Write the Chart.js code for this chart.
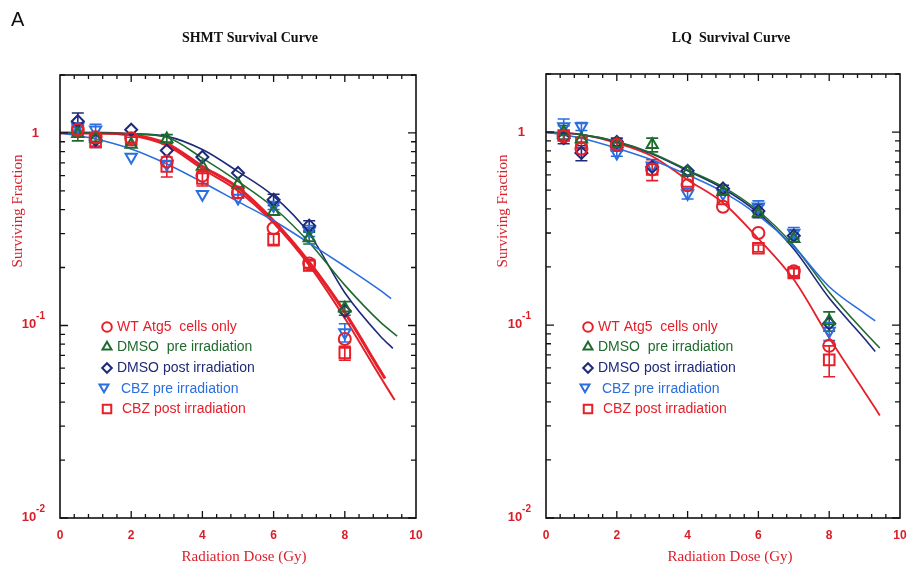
<!DOCTYPE html>
<html><head><meta charset="utf-8">
<script src="https://cdn.jsdelivr.net/npm/chart.js@4"></script>
<style>
html,body{margin:0;padding:0;background:#fff;width:915px;height:567px;overflow:hidden}
#wl{position:absolute;left:0;top:0;width:460px;height:567px}
#wr{position:absolute;left:460px;top:0;width:455px;height:567px}
</style></head><body>
<div id="wl"><canvas id="cl" width="460" height="567"></canvas></div>
<div id="wr"><canvas id="cr" width="455" height="567"></canvas></div>
<script>
// ---------- data ----------
const doses = [0.5, 1, 2, 3, 4, 5, 6, 7, 8];
const seriesNames = ['WT Atg5  cells only', 'DMSO  pre irradiation', 'DMSO post irradiation', 'CBZ pre irradiation', 'CBZ post irradiation'];
const xTickLabels = ['0', '2', '4', '6', '8', '10'];
const yTickLabels = [['10', '-2'], ['10', '-1'], ['1', '']];
const yTickValues = [0.01, 0.1, 1];

// SHMT panel: measured surviving fractions
const shmtWT       = [1.04, 0.95, 0.94, 0.71, 0.60, 0.49, 0.32, 0.21, 0.085];
const shmtDmsoPre  = [0.99, 0.94, 0.87, 0.93, 0.67, 0.54, 0.39, 0.285, 0.123];
const shmtDmsoPost = [1.15, 0.92, 1.04, 0.81, 0.75, 0.62, 0.45, 0.33, 0.119];
const shmtCbzPre   = [1.08, 1.04, 0.75, 0.69, 0.48, 0.46, 0.42, 0.31, 0.092];
const shmtCbzPost  = [1.05, 0.91, 0.92, 0.67, 0.58, 0.49, 0.28, 0.205, 0.072];
const shmtWTErr       = [0.05, 0, 0, 0, 0, 0, 0, 0.01, 0];
const shmtDmsoPreErr  = [0.08, 0.05, 0, 0.05, 0, 0, 0, 0.02, 0.01];
const shmtDmsoPostErr = [0.12, 0.08, 0, 0, 0, 0, 0.03, 0.02, 0];
const shmtCbzPreErr   = [0.05, 0.07, 0, 0, 0, 0, 0.02, 0.02, 0.01];
const shmtCbzPostErr  = [0.06, 0.07, 0.03, 0.08, 0.05, 0.03, 0.02, 0.012, 0.006];

// LQ panel: measured surviving fractions
const lqWT       = [0.95, 0.82, 0.86, 0.64, 0.53, 0.41, 0.30, 0.19, 0.078];
const lqDmsoPre  = [1.00, 0.92, 0.87, 0.86, 0.62, 0.49, 0.38, 0.28, 0.105];
const lqDmsoPost = [0.93, 0.78, 0.89, 0.66, 0.63, 0.51, 0.39, 0.29, 0.102];
const lqCbzPre   = [1.07, 1.07, 0.78, 0.67, 0.48, 0.48, 0.41, 0.30, 0.093];
const lqCbzPost  = [0.96, 0.88, 0.85, 0.64, 0.555, 0.45, 0.25, 0.186, 0.066];
const lqWTErr       = [0, 0, 0, 0, 0, 0, 0, 0.01, 0];
const lqDmsoPreErr  = [0.08, 0, 0, 0.07, 0, 0, 0, 0, 0.012];
const lqDmsoPostErr = [0.06, 0.07, 0.04, 0, 0, 0.02, 0.03, 0.02, 0];
const lqCbzPreErr   = [0.10, 0.05, 0.03, 0, 0.03, 0, 0.03, 0.02, 0.01];
const lqCbzPostErr  = [0.05, 0.06, 0.03, 0.08, 0, 0, 0.01, 0.01, 0.012];

// fitted curves at doses 0..9, last value at the curve's end dose
const fitDoses = [0, 1, 2, 3, 4, 5, 6, 7, 8, 9];
const shmtFitWT       = [1.0, 1.0, 0.98, 0.88, 0.67, 0.52, 0.35, 0.213, 0.117, 0.058, 0.053];
const shmtFitDmsoPre  = [1.0, 1.0, 0.99, 0.95, 0.74, 0.56, 0.41, 0.27, 0.162, 0.104, 0.088];
const shmtFitDmsoPost = [1.0, 1.0, 0.99, 0.96, 0.82, 0.63, 0.47, 0.30, 0.148, 0.088, 0.076];
const shmtFitCbzPre   = [1.0, 0.93, 0.825, 0.69, 0.555, 0.44, 0.35, 0.268, 0.203, 0.152, 0.138];
const shmtFitCbzPost  = [1.0, 1.0, 0.97, 0.86, 0.65, 0.50, 0.34, 0.205, 0.109, 0.054, 0.041];
const shmtFitEndDose  = [9.13, 9.47, 9.35, 9.3, 9.4];
const lqFitWT       = [1.0, 0.97, 0.877, 0.75, 0.565, 0.43, 0.28, 0.172, 0.086, 0.045, 0.034];
const lqFitDmsoPre  = [1.0, 0.97, 0.894, 0.777, 0.636, 0.52, 0.39, 0.258, 0.148, 0.092, 0.076];
const lqFitDmsoPost = [1.0, 0.97, 0.89, 0.77, 0.63, 0.51, 0.38, 0.248, 0.138, 0.085, 0.073];
const lqFitCbzPre   = [1.0, 0.93, 0.825, 0.717, 0.60, 0.49, 0.37, 0.255, 0.158, 0.115, 0.105];
const lqFitEndDose  = [9.43, 9.43, 9.3, 9.3];

// ---------- styles ----------
const RED = '#e5202a', GREEN = '#1f6b2d', NAVY = '#1f2a7a', BLUE = '#2a6ee0', TXTRED = '#d91e2a';
const markerStyles = [
  { color: RED, pointStyle: 'circle', rotation: 0, r: 6 },
  { color: GREEN, pointStyle: 'triangle', rotation: 0, r: 6.5 },
  { color: NAVY, pointStyle: 'rectRot', rotation: 0, r: 6 },
  { color: BLUE, pointStyle: 'triangle', rotation: 180, r: 6.5 },
  { color: RED, pointStyle: 'rect', rotation: 0, r: 7.5 }
];

function pts(xs, ys) { return ys.map((y, i) => ({ x: xs[i], y: y })); }
function fitPts(vals, endDose) {
  const arr = fitDoses.map((d, i) => ({ x: d, y: vals[i] }));
  arr.push({ x: endDose, y: vals[vals.length - 1] });
  return arr;
}
function fitDS(vals, endDose, color, width) {
  return { type: 'line', data: fitPts(vals, endDose), borderColor: color, borderWidth: width,
    pointRadius: 0, fill: false, cubicInterpolationMode: 'monotone', showLine: true, order: 2 };
}
function markDS(vals, errs, k) {
  const m = markerStyles[k];
  return { type: 'line', data: pts(doses, vals), err: errs, showLine: false,
    borderColor: m.color, backgroundColor: 'rgba(0,0,0,0)', pointStyle: m.pointStyle, rotation: m.rotation,
    pointRadius: m.r, pointBorderWidth: 2, pointBackgroundColor: 'rgba(0,0,0,0)', order: 1 };
}

function drawPoint(ctx, style, scale, x, y) {
  ctx.save();
  ctx.strokeStyle = style.color; ctx.fillStyle = 'rgba(0,0,0,0)'; ctx.lineWidth = 2;
  Chart.helpers.drawPoint(ctx, { pointStyle: style.pointStyle, rotation: style.rotation, radius: style.r * scale, borderWidth: 2 }, x, y);
  ctx.restore();
}

function panelPlugin(p) {
  return {
    id: 'panel',
    beforeDatasetsDraw(chart) {
      const ctx = chart.ctx, ys = chart.scales.y;
      ctx.save();
      chart.data.datasets.forEach((ds, i) => {
        if (!ds.err) return;
        const meta = chart.getDatasetMeta(i);
        ctx.strokeStyle = ds.borderColor; ctx.lineWidth = 1.6;
        ds.err.forEach((e, j) => {
          if (!e) return;
          const x = meta.data[j].x;
          const v = ds.data[j].y;
          const y1 = ys.getPixelForValue(v + e), y2 = ys.getPixelForValue(Math.max(v - e, 0.011));
          ctx.beginPath();
          ctx.moveTo(x, y1); ctx.lineTo(x, y2);
          ctx.moveTo(x - 6, y1); ctx.lineTo(x + 6, y1);
          ctx.moveTo(x - 6, y2); ctx.lineTo(x + 6, y2);
          ctx.stroke();
        });
      });
      ctx.restore();
    },
    afterDraw(chart) {
      const ctx = chart.ctx, a = chart.chartArea, xs = chart.scales.x, ys = chart.scales.y;
      ctx.save();
      // frame
      ctx.strokeStyle = '#111'; ctx.lineWidth = 1.6;
      ctx.strokeRect(a.left, a.top, a.right - a.left, a.bottom - a.top);
      ctx.lineWidth = 1.3;
      ctx.beginPath();
      // x ticks every 0.4, major every 2
      for (let i = 1; i < 25; i++) {
        const v = i * 0.4;
        const major = i % 5 === 0;
        const px = xs.getPixelForValue(v), L = major ? 7 : 4;
        ctx.moveTo(px, a.bottom); ctx.lineTo(px, a.bottom - L);
        ctx.moveTo(px, a.top); ctx.lineTo(px, a.top + L);
      }
      // y ticks (log)
      [0.01, 0.1, 1].forEach(dec => {
        for (let m = 1; m <= 9; m++) {
          const v = m * dec;
          if (v > 2 || v <= 0.01 && m > 1) continue;
          const py = ys.getPixelForValue(v), L = m === 1 ? 8 : 5;
          ctx.moveTo(a.left, py); ctx.lineTo(a.left + L, py);
          ctx.moveTo(a.right, py); ctx.lineTo(a.right - L, py);
        }
      });
      ctx.stroke();

      // x tick labels
      ctx.fillStyle = TXTRED;
      ctx.font = 'bold 12px "Liberation Sans", Arial, sans-serif';
      ctx.textAlign = 'center'; ctx.textBaseline = 'middle';
      xTickLabels.forEach(t => ctx.fillText(t, xs.getPixelForValue(+t), a.bottom + 18));
      // y tick labels
      yTickValues.forEach((v, i) => {
        const py = ys.getPixelForValue(v), lab = yTickLabels[i];
        if (!lab[1]) {
          ctx.font = 'bold 13px "Liberation Sans", Arial, sans-serif';
          ctx.textAlign = 'right'; ctx.textBaseline = 'middle';
          ctx.fillText(lab[0], a.left - 21, py);
        } else {
          ctx.font = 'bold 10px "Liberation Sans", Arial, sans-serif';
          const we = ctx.measureText(lab[1]).width;
          ctx.textAlign = 'right'; ctx.textBaseline = 'alphabetic';
          ctx.fillText(lab[1], a.left - 15, py - 6);
          ctx.font = 'bold 13px "Liberation Sans", Arial, sans-serif';
          ctx.fillText(lab[0], a.left - 15 - we, py + 3);
        }
      });
      // axis titles
      ctx.font = '15px "Liberation Serif", "Times New Roman", serif';
      ctx.textAlign = 'center'; ctx.textBaseline = 'middle';
      ctx.fillText('Radiation Dose (Gy)', p.xTitleX, 557);
      ctx.save();
      ctx.translate(p.yTitleX, 211); ctx.rotate(-Math.PI / 2);
      ctx.fillText('Surviving Fraction', 0, 0);
      ctx.restore();
      // panel title
      ctx.fillStyle = '#111';
      ctx.font = 'bold 14px "Liberation Serif", "Times New Roman", serif';
      ctx.fillText(p.title, p.titleX, 38);
      if (p.letter) {
        ctx.font = '20px "Liberation Sans", Arial, sans-serif';
        ctx.textAlign = 'left'; ctx.textBaseline = 'alphabetic';
        ctx.fillText(p.letter, 11, 26);
      }
      // legend
      const rows = [327, 347, 368, 389, 409];
      const tx = [0, 0, 0, 4, 5];
      seriesNames.forEach((name, k) => {
        const m = markerStyles[k];
        drawPoint(ctx, m, 0.8, p.legX + (k === 3 ? -3 : 0), rows[k] + (k === 3 ? -2 : 0));
        ctx.fillStyle = m.color;
        ctx.font = '14px "Liberation Sans", Arial, sans-serif';
        ctx.textAlign = 'left'; ctx.textBaseline = 'middle';
        ctx.fillText(name, p.legX + 10 + tx[k], rows[k]);
      });
      ctx.restore();
    }
  };
}

function makeChart(id, datasets, p) {
  return new Chart(document.getElementById(id), {
    type: 'line',
    data: { datasets },
    options: {
      responsive: false, animation: false, devicePixelRatio: 1,
      layout: { padding: p.pad },
      plugins: { legend: { display: false }, tooltip: { enabled: false } },
      scales: {
        x: { type: 'linear', min: 0, max: 10, display: false },
        y: { type: 'logarithmic', min: 0.01, max: 2, display: false }
      }
    },
    plugins: [panelPlugin(p)]
  });
}

makeChart('cl', [
  fitDS(shmtFitCbzPre, shmtFitEndDose[3], BLUE, 1.6),
  fitDS(shmtFitDmsoPre, shmtFitEndDose[1], GREEN, 1.6),
  fitDS(shmtFitDmsoPost, shmtFitEndDose[2], NAVY, 1.6),
  fitDS(shmtFitCbzPost, shmtFitEndDose[4], RED, 2),
  fitDS(shmtFitWT, shmtFitEndDose[0], RED, 3),
  markDS(shmtWT, shmtWTErr, 0),
  markDS(shmtDmsoPre, shmtDmsoPreErr, 1),
  markDS(shmtDmsoPost, shmtDmsoPostErr, 2),
  markDS(shmtCbzPre, shmtCbzPreErr, 3),
  markDS(shmtCbzPost, shmtCbzPostErr, 4)
], { pad: { left: 60, right: 44, top: 75, bottom: 49 }, title: 'SHMT Survival Curve', titleX: 250,
     xTitleX: 244, yTitleX: 18, legX: 107, letter: 'A' });

makeChart('cr', [
  fitDS(lqFitCbzPre, lqFitEndDose[3], BLUE, 1.6),
  fitDS(lqFitDmsoPre, lqFitEndDose[1], GREEN, 1.6),
  fitDS(lqFitDmsoPost, lqFitEndDose[2], NAVY, 1.6),
  fitDS(lqFitWT, lqFitEndDose[0], RED, 1.8),
  markDS(lqWT, lqWTErr, 0),
  markDS(lqDmsoPre, lqDmsoPreErr, 1),
  markDS(lqDmsoPost, lqDmsoPostErr, 2),
  markDS(lqCbzPre, lqCbzPreErr, 3),
  markDS(lqCbzPost, lqCbzPostErr, 4)
], { pad: { left: 86, right: 15, top: 74, bottom: 49 }, title: 'LQ  Survival Curve', titleX: 271,
     xTitleX: 270, yTitleX: 43, legX: 128, letter: '' });
</script>
</body></html>
